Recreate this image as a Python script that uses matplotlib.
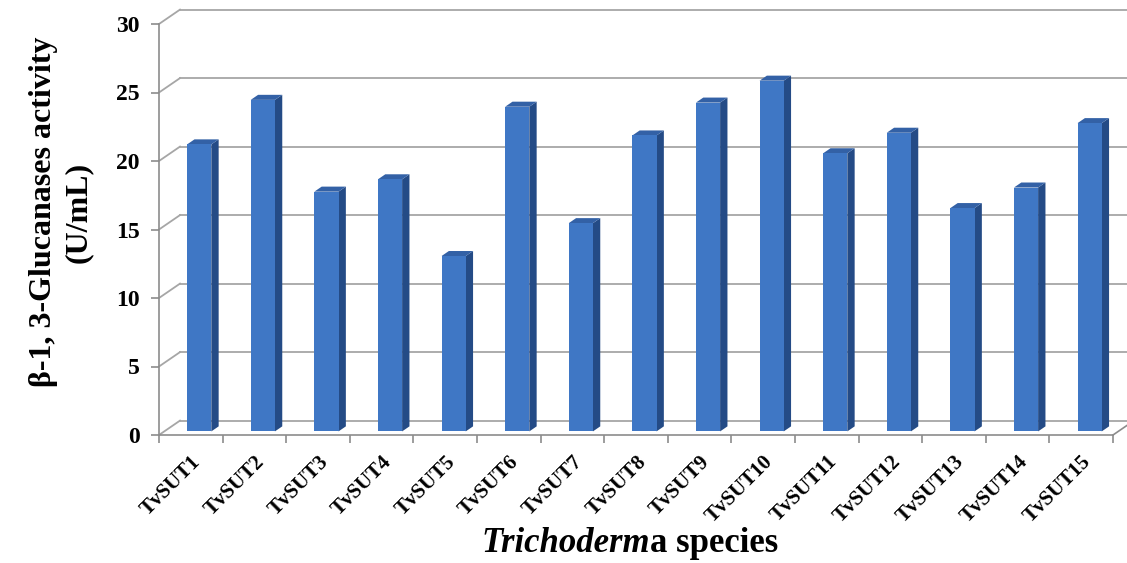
import numpy as np
import matplotlib.pyplot as plt
from matplotlib.patches import Polygon

# data
species = ['TvSUT1', 'TvSUT2', 'TvSUT3', 'TvSUT4', 'TvSUT5', 'TvSUT6', 'TvSUT7', 'TvSUT8',
           'TvSUT9', 'TvSUT10', 'TvSUT11', 'TvSUT12', 'TvSUT13', 'TvSUT14', 'TvSUT15']
activity = [20.95, 24.2, 17.5, 18.4, 12.8, 23.7, 15.2, 21.6, 24.0, 25.6, 20.3, 21.8, 16.3, 17.8, 22.5]
y_ticks = [0, 5, 10, 15, 20, 25, 30]

# fake 3d look (excel style) - depth of the box in data units
DX, DY = 0.33, 1.05
F0, F1 = 0.25, 0.60   # front / back of each bar along the depth
W = 0.38

FRONT = '#3f77c5'
SIDE = '#244b86'
TOP = '#3361a6'
GRID = '#a6a6a6'
AXC = '#8c8c8c'

plt.rcParams['font.family'] = ['Liberation Serif', 'DejaVu Serif']
plt.rcParams['font.weight'] = 'bold'

fig = plt.figure(figsize=(11.27, 5.63), dpi=100)
ax = fig.add_axes([159 / 1127, (563 - 435) / 563, (1113 - 159) / 1127, (435 - 24) / 563])
ax.set_xlim(0, len(species))
ax.set_ylim(0, 30)

# back wall gridlines + left wall diagonals
for t in y_ticks:
    ax.plot([0, DX], [t, t + DY], color=GRID, lw=1.3, clip_on=False, zorder=1)
    ax.plot([DX, len(species) + 0.6], [t + DY, t + DY], color=GRID, lw=1.3, clip_on=False, zorder=1)
# right edge of the floor
ax.plot([len(species), len(species) + DX], [0, DY], color=AXC, lw=1.2, clip_on=False, zorder=1)

# the bars
for i, v in enumerate(activity):
    x0 = i + 0.5 - W / 2 + 0.05
    x1 = x0 + W
    front = [(x0 + F0 * DX, F0 * DY), (x1 + F0 * DX, F0 * DY),
             (x1 + F0 * DX, v + F0 * DY), (x0 + F0 * DX, v + F0 * DY)]
    side = [(x1 + F0 * DX, F0 * DY), (x1 + F1 * DX, F1 * DY),
            (x1 + F1 * DX, v + F1 * DY), (x1 + F0 * DX, v + F0 * DY)]
    top = [(x0 + F0 * DX, v + F0 * DY), (x1 + F0 * DX, v + F0 * DY),
           (x1 + F1 * DX, v + F1 * DY), (x0 + F1 * DX, v + F1 * DY)]
    ax.add_patch(Polygon(side, closed=True, fc=SIDE, ec='none', zorder=3))
    ax.add_patch(Polygon(top, closed=True, fc=TOP, ec='none', zorder=3))
    ax.add_patch(Polygon(front, closed=True, fc=FRONT, ec='none', zorder=4))

for s in ['top', 'right']:
    ax.spines[s].set_visible(False)
for s in ['left', 'bottom']:
    ax.spines[s].set_color(AXC)
    ax.spines[s].set_linewidth(1.2)

ax.set_yticks(y_ticks)
ax.set_yticklabels([str(t) for t in y_ticks], fontsize=17, fontweight='bold')
ax.set_xticks(np.arange(len(species) + 1))
ax.set_xticklabels([])
ax.set_xticks(np.arange(len(species)) + 0.5, minor=True)
ax.set_xticklabels(species, minor=True, rotation=45, ha='right', rotation_mode='anchor',
                   fontsize=15, fontweight='bold')
ax.tick_params(axis='both', which='major', length=6, color=AXC, width=1.2)
ax.tick_params(axis='y', pad=8)
ax.tick_params(axis='x', which='minor', length=0, pad=12)

fig.text(61 / 1127, 1 - 212 / 563, 'β-1, 3-Glucanases activity\n(U/mL)', rotation=90,
         ha='center', va='center', multialignment='center', fontsize=23, fontweight='bold',
         linespacing=1.25)

# x label: italic genus name then upright rest
r = fig.canvas.get_renderer()
t1 = fig.text(0, 1 - 544 / 563, 'Trichoderm', fontsize=25, fontweight='bold', style='italic',
              ha='left', va='center')
t2 = fig.text(0, 1 - 544 / 563, 'a species', fontsize=25, fontweight='bold',
              ha='left', va='center')
w1 = t1.get_window_extent(r).width
w2 = t2.get_window_extent(r).width
x_start = 630 - (w1 + w2) / 2
t1.set_x(x_start / 1127)
t2.set_x((x_start + w1) / 1127)

fig.savefig('out.png', dpi=100)
